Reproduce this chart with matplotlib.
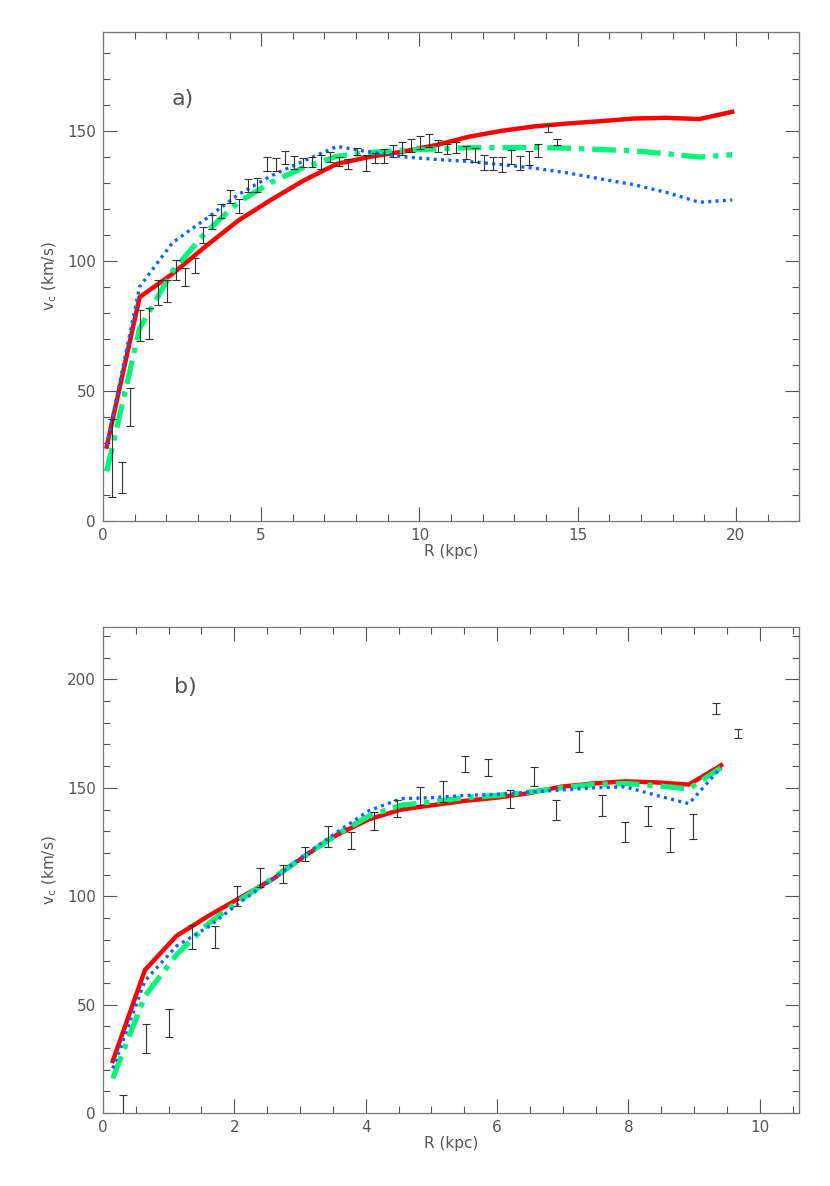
import numpy as np
import matplotlib.pyplot as plt
from matplotlib.ticker import MultipleLocator

# ---- panel a) data ----
ra_obs = [0.30, 0.59, 0.87, 1.16, 1.45, 1.74, 2.01, 2.31, 2.60, 2.90,
          3.15, 3.44, 3.73, 4.01, 4.31, 4.59, 4.88, 5.17, 5.46, 5.75,
          6.03, 6.32, 6.60, 6.90, 7.18, 7.46, 7.75, 8.04, 8.32, 8.58,
          8.88, 9.16, 9.45, 9.74, 10.02, 10.31, 10.60, 10.88, 11.17, 11.46,
          11.74, 12.03, 12.32, 12.61, 12.89, 13.19, 13.47, 13.75, 14.05, 14.33]
va_obs = [24.0, 16.5, 43.7, 75.0, 76.0, 87.7, 88.3, 96.5, 93.7, 98.2,
          110.0, 115.0, 119.0, 124.7, 121.0, 129.0, 129.1, 137.2, 136.9, 139.7,
          137.8, 137.8, 138.0, 138.1, 140.0, 138.1, 137.3, 142.0, 137.7, 139.5,
          140.4, 142.3, 143.0, 144.5, 145.5, 146.2, 144.1, 143.1, 143.6, 141.6,
          140.6, 137.8, 137.5, 137.0, 140.0, 137.5, 139.4, 142.5, 150.8, 145.7]
ea_obs = [15.0, 6.0, 7.4, 6.0, 6.0, 4.7, 4.3, 3.8, 3.6, 3.0,
          3.0, 2.7, 2.7, 2.6, 2.8, 2.6, 2.8, 2.7, 2.5, 2.4,
          2.4, 1.8, 2.0, 2.7, 2.0, 1.8, 2.0, 1.5, 3.0, 1.8,
          2.7, 2.4, 2.5, 2.5, 2.4, 2.4, 2.3, 2.0, 2.1, 2.6,
          2.6, 2.8, 2.5, 3.0, 2.7, 2.7, 2.7, 2.6, 1.4, 1.3]

ra_mod = [0.12, 1.16, 2.20, 3.24, 4.28, 5.32, 6.36, 7.40, 8.44, 9.48,
          10.52, 11.56, 12.60, 13.64, 14.68, 15.72, 16.76, 17.80, 18.84, 19.88]
va_red = [28.5, 86.0, 95.0, 105.5, 115.5, 123.5, 131.0, 137.3, 140.0, 142.0,
          144.5, 147.7, 150.0, 151.7, 152.8, 153.7, 154.7, 155.0, 154.5, 157.3]
va_green = [19.0, 74.0, 96.0, 110.8, 122.5, 130.2, 136.0, 140.2, 141.7, 142.5,
            143.0, 143.5, 143.5, 143.6, 143.3, 142.8, 142.3, 141.2, 139.9, 140.8]
va_blue = [29.0, 90.0, 107.0, 116.0, 125.5, 132.7, 138.5, 144.0, 141.8, 140.0,
           139.0, 138.2, 137.0, 135.6, 133.8, 131.5, 129.3, 126.3, 122.5, 123.4]

# ---- panel b) data ----
rb_obs = [0.31, 0.66, 1.00, 1.35, 1.70, 2.04, 2.39, 2.74, 3.08, 3.43,
          3.78, 4.13, 4.47, 4.82, 5.17, 5.51, 5.86, 6.20, 6.56, 6.90,
          7.25, 7.59, 7.94, 8.29, 8.63, 8.98, 9.33, 9.67]
vb_obs = [0.0, 34.4, 41.6, 81.2, 81.2, 100.2, 108.8, 110.3, 119.5, 127.6,
          125.8, 134.7, 140.6, 146.2, 148.3, 161.1, 159.5, 145.0, 155.2, 139.8,
          171.2, 142.0, 129.6, 137.0, 125.9, 132.1, 186.5, 175.0]
eb_obs = [8.2, 6.7, 6.3, 5.7, 5.2, 4.6, 4.4, 4.1, 3.3, 4.7,
          3.8, 4.0, 4.0, 4.2, 4.8, 3.8, 4.0, 4.1, 4.4, 4.8,
          4.8, 4.8, 4.7, 4.7, 5.7, 5.8, 2.4, 2.2]

rb_mod = [0.15, 0.64, 1.12, 1.61, 2.10, 2.59, 3.07, 3.56, 4.05, 4.54,
          5.02, 5.51, 6.00, 6.48, 6.97, 7.46, 7.95, 8.43, 8.92, 9.41]
vb_red = [24.0, 66.0, 81.7, 91.0, 99.5, 108.0, 118.5, 128.3, 135.5, 140.0,
          142.0, 144.0, 145.5, 147.5, 150.5, 152.0, 153.0, 152.5, 151.5, 160.4]
vb_green = [16.0, 54.0, 73.0, 87.5, 98.5, 108.5, 118.5, 128.5, 137.0, 142.0,
            143.5, 145.5, 146.5, 148.0, 150.0, 151.5, 152.0, 151.0, 149.5, 159.3]
vb_blue = [20.6, 61.0, 77.0, 86.0, 97.5, 108.0, 119.0, 129.5, 139.5, 145.0,
           145.5, 146.5, 147.0, 148.0, 149.0, 150.0, 150.5, 146.5, 142.7, 159.5]

RED = '#ff0000'
GREEN = '#00f57a'
BLUE = '#0a64ff'
TXT = '#555555'

fig = plt.figure(figsize=(8.3, 11.86), dpi=100)
ax1 = fig.add_axes([0.124, 0.561, 0.839, 0.412])
ax2 = fig.add_axes([0.124, 0.0615, 0.839, 0.4095])


def draw(ax, r_obs, v_obs, e_obs, r_mod, red, green, blue):
    ax.plot(r_mod, red, color=RED, lw=3.2, solid_joinstyle='miter', zorder=3)
    ax.plot(r_mod, green, color=GREEN, lw=3.8, dashes=(4.5, 1.5, 1.0, 1.5), zorder=3)
    ax.plot(r_mod, blue, color=BLUE, lw=2.4, dashes=(0.9, 1.3), zorder=4)
    ax.errorbar(r_obs, v_obs, yerr=e_obs, fmt='none', ecolor='#333333',
                elinewidth=0.8, capsize=2.6, capthick=0.8, zorder=5)


def style(ax, xmaj, xmin, ymax):
    ax.set_ylim(0, ymax)
    ax.xaxis.set_major_locator(MultipleLocator(xmaj))
    ax.xaxis.set_minor_locator(MultipleLocator(xmin))
    ax.yaxis.set_major_locator(MultipleLocator(50))
    ax.yaxis.set_minor_locator(MultipleLocator(10))
    ax.tick_params(which='both', direction='in', top=True, right=True,
                   color='#555555', labelcolor=TXT, labelsize=11, pad=5)
    ax.tick_params(which='major', length=10, width=0.8)
    ax.tick_params(which='minor', length=5, width=0.8)
    for s in ax.spines.values():
        s.set_color('#777777')
        s.set_linewidth(0.9)
    ax.set_xlabel('R (kpc)', color=TXT, fontsize=11, labelpad=1)
    ax.set_ylabel(r'v$_{\rm c}$ (km/s)', color=TXT, fontsize=11, labelpad=6)


draw(ax1, ra_obs, va_obs, ea_obs, ra_mod, va_red, va_green, va_blue)
ax1.set_xlim(0, 22)
style(ax1, 5, 1, 188)
ax1.text(0.098, 0.85, 'a)', transform=ax1.transAxes, fontsize=16, color=TXT)

draw(ax2, rb_obs, vb_obs, eb_obs, rb_mod, vb_red, vb_green, vb_blue)
ax2.set_xlim(0, 10.6)
style(ax2, 2, 0.5, 224)
ax2.text(0.102, 0.865, 'b)', transform=ax2.transAxes, fontsize=16, color=TXT)

fig.savefig('out.png', dpi=100)
